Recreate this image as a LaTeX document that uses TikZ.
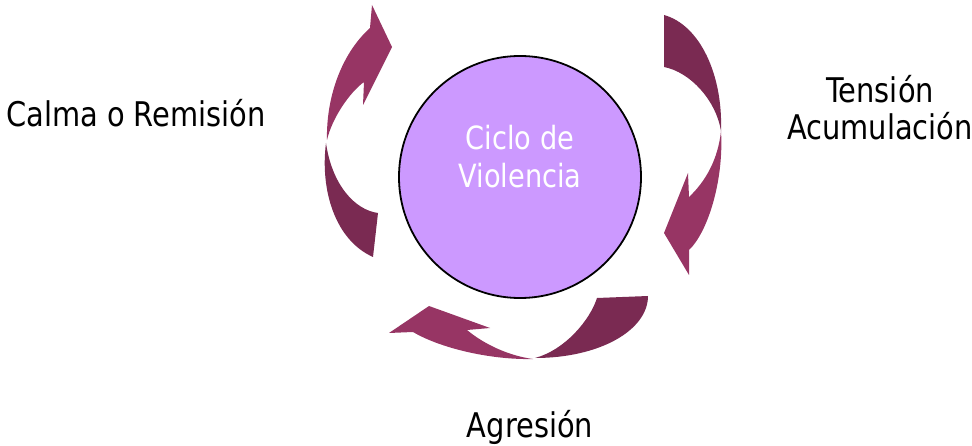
\documentclass[tikz,border=0pt]{standalone}
\usepackage{fontspec}
\setmainfont{DejaVu Sans}[FakeStretch=0.85]
\definecolor{colTail}{RGB}{122,42,82}
\definecolor{colHead}{RGB}{151,53,100}
\definecolor{colHub}{RGB}{204,153,255}
\tikzstyle{tail}=[fill=colTail]
\tikzstyle{head}=[fill=colHead]
\tikzstyle{hub}=[circle, draw=black, line width=1.8pt, fill=colHub, inner sep=0pt, minimum size=242pt]
\tikzstyle{stage}=[font=\fontsize{34}{37.5}\selectfont, inner sep=0pt, align=center]
\tikzstyle{hubtext}=[stage, font=\fontsize{32}{38}\selectfont, text=white]

\begin{document}
\begin{tikzpicture}[x=1pt, y=-1pt]
			\useasboundingbox (0,0) rectangle (972,446);

			\node[hub] (ciclo) at (520,177) {};
			\node[hubtext, anchor=base] (cicloTxt) at (520,188) {Ciclo de\\Violencia};

			% Right arrow
			\fill[tail] (664,15) -- (664,67) .. controls (690,72) and (716,100) .. (721,131)
				.. controls (723,75) and (700,25) .. (664,15) -- cycle;
			\fill[head] (721,131) .. controls (724,180) and (708,232) .. (689,250) -- (689,275)
				-- (664,233) -- (688,173) -- (689,197) .. controls (705,182) and (718,160) .. (721,131) -- cycle;

			% Bottom arrow
			\fill[tail] (597,298) -- (648,296) .. controls (648,330) and (600,358) .. (535,358)
				.. controls (565,350) and (590,320) .. (597,298) -- cycle;
			\fill[head] (533,359) .. controls (490,360) and (440,348) .. (413,332) -- (389,333)
				-- (429,306) -- (490,328) -- (467,330) .. controls (485,345) and (510,356) .. (533,359) -- cycle;

			% Left arrow
			\fill[tail] (326,143) .. controls (320,190) and (335,240) .. (373,257) -- (378,213)
				.. controls (355,210) and (332,185) .. (326,143) -- cycle;
			\fill[head] (327,140) .. controls (326,100) and (340,55) .. (370,28) -- (372,5)
				-- (392,47) -- (363,105) -- (364,82) .. controls (350,92) and (332,118) .. (327,140) -- cycle;

			\node[stage, anchor=base] (tension) at (880,140) {Tensión\\Acumulación};
			\node[stage, anchor=base] (agresion) at (530,437) {Agresión};
			\node[stage, anchor=base] (calma) at (136,127) {Calma o Remisión};
		\end{tikzpicture}
\end{document}
